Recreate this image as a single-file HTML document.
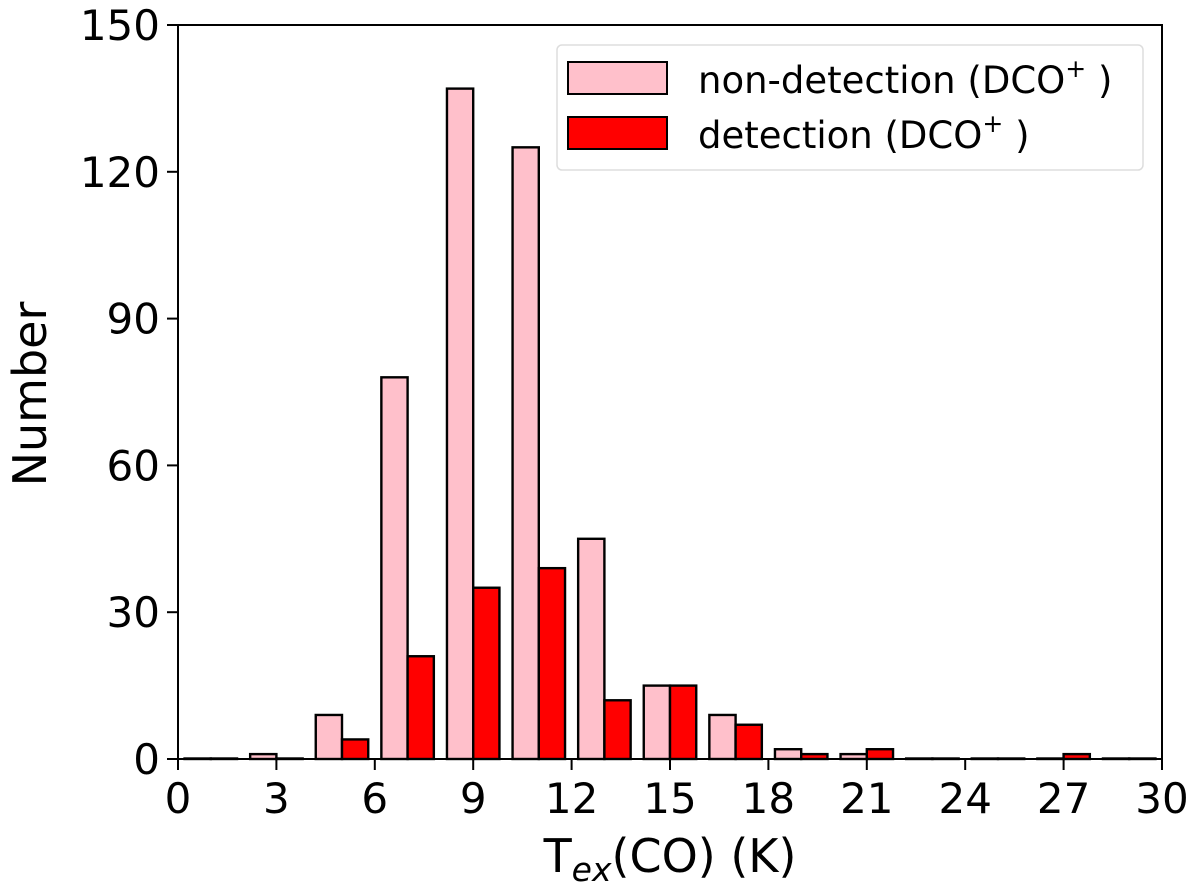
<!DOCTYPE html>
<html><head><meta charset="utf-8"><style>
body{margin:0;background:#fff}
svg{display:block;font-family:"DejaVu Sans","Liberation Sans",sans-serif}
</style></head><body>
<svg id="chart" width="1200" height="892">
<g id="bars"></g>
<rect x="178" y="25" width="984" height="734" fill="none" stroke="#000" stroke-width="2"/>
<g id="xt"></g>
<g id="yt"></g>
<text x="670" y="872" font-size="46" text-anchor="middle">T<tspan font-style="italic" font-size="33" dy="9">ex</tspan><tspan dy="-9">(CO) (K)</tspan></text>
<text transform="translate(46,394) rotate(-90)" font-size="46" text-anchor="middle">Number</text>
<g>
<rect x="557" y="45" width="586" height="125" rx="5" fill="#fff" stroke="#ddd" stroke-width="1.5"/>
<rect x="568" y="62" width="99" height="32" fill="pink" stroke="#000" stroke-width="2"/>
<text x="698" y="93" font-size="37">non-detection (DCO<tspan font-size="25" dy="-16">+</tspan><tspan dy="16"> )</tspan></text>
<rect x="568" y="117" width="99" height="32" fill="red" stroke="#000" stroke-width="2"/>
<text x="698" y="148" font-size="37">detection (DCO<tspan font-size="25" dy="-16">+</tspan><tspan dy="16"> )</tspan></text>
</g>
</svg>
<script>
const binEdges=[0,2,4,6,8,10,12,14,16,18,20,22,24,26,28];
const nonDetection=[0,1,9,78,137,125,45,15,9,2,1,0,0,0,0];
const detection=[0,0,4,21,35,39,12,15,7,1,2,0,0,1,0];
const xTicks=[0,3,6,9,12,15,18,21,24,27,30];
const yTicks=[0,30,60,90,120,150];
const NS="http://www.w3.org/2000/svg";
const X=v=>178+v*(984/30), Y=v=>759-v*(734/150);
const bars=document.getElementById('bars');
function bar(x0,w,v,fill,name){
 const r=document.createElementNS(NS,'rect');
 const h=Math.max(0.5,Y(0)-Y(v));
 r.setAttribute('x',X(x0));r.setAttribute('width',X(x0+w)-X(x0));
 r.setAttribute('y',Y(0)-h);r.setAttribute('height',h);
 r.setAttribute('fill',fill);r.setAttribute('stroke','#000');r.setAttribute('stroke-width','2.4');
 
 
 bars.appendChild(r);
}
binEdges.forEach((e,i)=>{
 bar(e+0.2,0.8,nonDetection[i],'pink','bar-non-detection-'+e);
 bar(e+1.0,0.8,detection[i],'red','bar-detection-'+e);
});
const xt=document.getElementById('xt');
xTicks.forEach(t=>{
 const l=document.createElementNS(NS,'line');
 l.setAttribute('x1',X(t));l.setAttribute('x2',X(t));l.setAttribute('y1',759);l.setAttribute('y2',770);l.setAttribute('stroke','#000');l.setAttribute('stroke-width','2');
 
 
 xt.appendChild(l);
 const s=document.createElementNS(NS,'text');
 s.setAttribute('x',X(t));s.setAttribute('y',813);s.setAttribute('font-size','42');s.setAttribute('text-anchor','middle');
 s.textContent=t;
 
 
 xt.appendChild(s);
});
const yt=document.getElementById('yt');
yTicks.forEach(t=>{
 const l=document.createElementNS(NS,'line');
 l.setAttribute('x1',167);l.setAttribute('x2',178);l.setAttribute('y1',Y(t));l.setAttribute('y2',Y(t));l.setAttribute('stroke','#000');l.setAttribute('stroke-width','2');
 
 
 yt.appendChild(l);
 const s=document.createElementNS(NS,'text');
 s.setAttribute('x',160);s.setAttribute('y',Y(t)+15);s.setAttribute('font-size','42');s.setAttribute('text-anchor','end');
 s.textContent=t;
 
 
 yt.appendChild(s);
});
</script>
</body></html>
